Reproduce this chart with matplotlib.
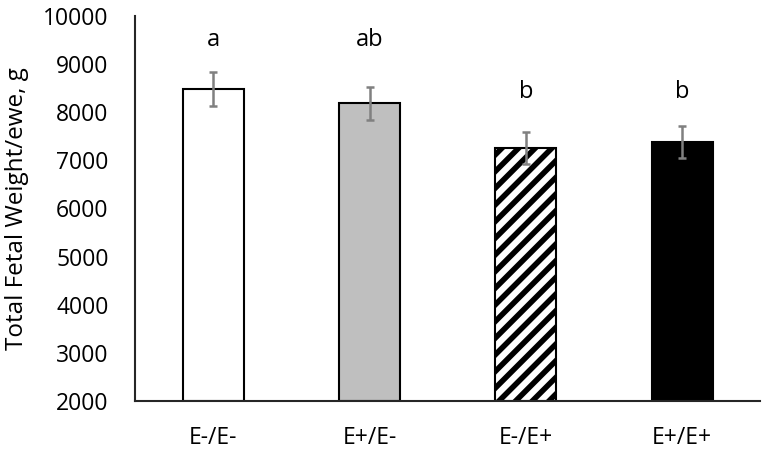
import numpy as np
import matplotlib.pyplot as plt

plt.rcParams["font.family"] = ["Open Sans", "DejaVu Sans"]
plt.rcParams["hatch.linewidth"] = 4.0

groups = ["E-/E-", "E+/E-", "E-/E+", "E+/E+"]
means = [8480, 8180, 7260, 7380]
errors = [350, 340, 330, 340]
letters = ["a", "ab", "b", "b"]
letter_y = [9380, 9380, 8300, 8300]
colors = ["white", "#bfbfbf", "white", "black"]
hatches = [None, None, "//", None]

fig = plt.figure(figsize=(7.72, 4.53), dpi=100)
ax = fig.add_axes([0.175, 0.115, 0.81, 0.85])

x = np.arange(len(groups))
for i in range(len(groups)):
    ax.bar(x[i], means[i] - 2000, bottom=2000, width=0.39, color=colors[i],
           edgecolor="black", linewidth=1.5, hatch=hatches[i], zorder=2)
ax.errorbar(x, means, yerr=errors, fmt="none", ecolor="#808080",
            elinewidth=1.8, capsize=3, capthick=1.8, zorder=3)

for i in range(len(groups)):
    ax.text(x[i], letter_y[i], letters[i], ha="center", va="baseline",
            fontsize=17)

ax.set_xlim(-0.5, 3.5)
ax.set_ylim(2000, 10000)
ax.set_yticks(np.arange(2000, 10001, 1000))
ax.set_xticks(x)
ax.set_xticklabels(groups)
ax.tick_params(axis="both", length=0, labelsize=16.5, colors="black")
ax.tick_params(axis="y", pad=19)
ax.tick_params(axis="x", pad=18)
ax.set_ylabel("Total Fetal Weight/ewe, g", fontsize=17.5)
ax.yaxis.set_label_coords(-0.17, 0.5)
for s in ["top", "right"]:
    ax.spines[s].set_visible(False)
for s in ["left", "bottom"]:
    ax.spines[s].set_linewidth(1.5)
    ax.spines[s].set_color("#262626")

fig.savefig("out.png", dpi=100)
